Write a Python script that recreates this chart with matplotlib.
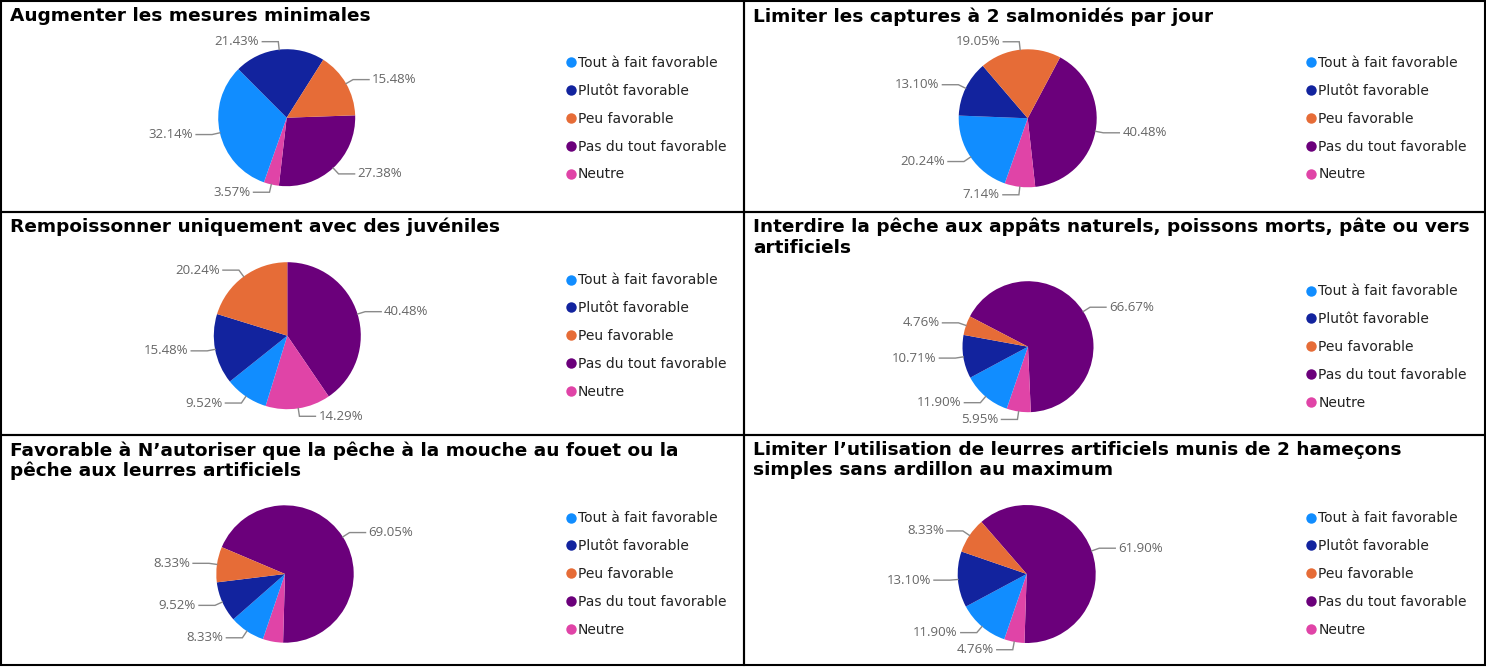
import numpy as np
import matplotlib
matplotlib.use("Agg")
import matplotlib.pyplot as plt
from matplotlib.lines import Line2D
from matplotlib.patches import Rectangle

W, H = 1486, 667

categories = ["Tout à fait favorable", "Plutôt favorable", "Peu favorable",
              "Pas du tout favorable", "Neutre"]
colors = ["#118DFF", "#12239E", "#E66C37", "#6B007B", "#E044A7"]

titles = [
    "Augmenter les mesures minimales",
    "Limiter les captures à 2 salmonidés par jour",
    "Rempoissonner uniquement avec des juvéniles",
    "Interdire la pêche aux appâts naturels, poissons morts, pâte ou vers\nartificiels",
    "Favorable à N’autoriser que la pêche à la mouche au fouet ou la\npêche aux leurres artificiels",
    "Limiter l’utilisation de leurres artificiels munis de 2 hameçons\nsimples sans ardillon au maximum",
]

# percentages, same order as categories
mesures_minimales = [32.14, 21.43, 15.48, 27.38, 3.57]
captures_2 = [20.24, 13.10, 19.05, 40.48, 7.14]
juveniles = [9.52, 15.48, 20.24, 40.48, 14.29]
appats_naturels = [11.90, 10.71, 4.76, 66.67, 5.95]
mouche_fouet = [8.33, 9.52, 8.33, 69.05, 4.76]
hamecons_simples = [11.90, 13.10, 8.33, 61.90, 4.76]
all_values = [mesures_minimales, captures_2, juveniles,
              appats_naturels, mouche_fouet, hamecons_simples]

# slices go clockwise in this order
slice_order = [3, 4, 0, 1, 2]
hidden_labels = [[], [], [], [], [4], []]

# layout in pixels: pie centre, radius, rotation (deg clockwise from 12 o'clock)
pie_layout = [
    (286.7, 117.7, 68.5, 88),
    (1027.7, 118.3, 69, 28),
    (287.3, 335.7, 73.5, 0),
    (1028, 346.7, 65.5, 297.5),
    (285, 574, 68.7, 293),
    (1026.7, 574, 69, 319),
]
legend_pos = [(565.6, 62.5), (1306, 62.5), (565.6, 280),
              (1306, 291), (565.6, 518), (1306, 518)]
panel_cols = [(1, 744), (744, 1485)]
panel_rows = [(1, 212), (212, 435), (435, 665)]

fig = plt.figure(figsize=(W / 100, H / 100), dpi=100)
fig.patch.set_facecolor("white")

for k, values in enumerate(all_values):
    row, col = k // 2, k % 2
    x0, x1 = panel_cols[col]
    y0, y1 = panel_rows[row]

    # panel frame
    fig.add_artist(Rectangle((x0 / W, 1 - y1 / H), (x1 - x0) / W, (y1 - y0) / H,
                             transform=fig.transFigure, fill=False,
                             edgecolor="black", linewidth=1.5))

    fig.text((x0 + 9) / W, 1 - (y0 + 6) / H, titles[k], fontsize=13.3,
             fontweight="bold", va="top", ha="left", color="black",
             linespacing=1.15)

    cx, cy, r, rot = pie_layout[k]
    ax = fig.add_axes([(cx - r) / W, 1 - (cy + r) / H, 2 * r / W, 2 * r / H])
    vals = [values[i] for i in slice_order]
    cols = [colors[i] for i in slice_order]
    wedges, _ = ax.pie(vals, colors=cols, startangle=90 - rot, counterclock=False,
                       radius=1, wedgeprops=dict(linewidth=0))
    ax.set_xlim(-1, 1)
    ax.set_ylim(-1, 1)
    ax.set_aspect("equal")
    ax.axis("off")

    for w, idx in zip(wedges, slice_order):
        if idx in hidden_labels[k]:
            continue
        mid = np.deg2rad((w.theta1 + w.theta2) / 2)
        c, s = np.cos(mid), np.sin(mid)
        side = 1 if c >= 0 else -1
        ex, ey = c * (1 + 8 / r), s * (1 + 8 / r)
        hx = ex + side * 16 / r
        ax.plot([c, ex, hx], [s, ey, ey], color="#8a8a8a", lw=1, clip_on=False,
                solid_joinstyle="miter")
        ax.text(hx + side * 3 / r, ey, f"{values[idx]:.2f}%", fontsize=9.5,
                family="Open Sans", color="#666666", va="center",
                ha="left" if side > 0 else "right")

    lx, ly = legend_pos[k]
    handles = [Line2D([], [], marker="o", linestyle="none", markersize=7.5,
                      markerfacecolor=colors[i], markeredgewidth=0)
               for i in range(len(categories))]
    fig.legend(handles, categories, loc="upper left",
               bbox_to_anchor=(lx / W, 1 - (ly - 6.6) / H),
               bbox_transform=fig.transFigure, frameon=False, fontsize=10,
               borderpad=0, borderaxespad=0, handlelength=0.75,
               handletextpad=0.15, labelspacing=1.0, labelcolor="#222222")

fig.savefig("out.png", dpi=100, facecolor="white")
